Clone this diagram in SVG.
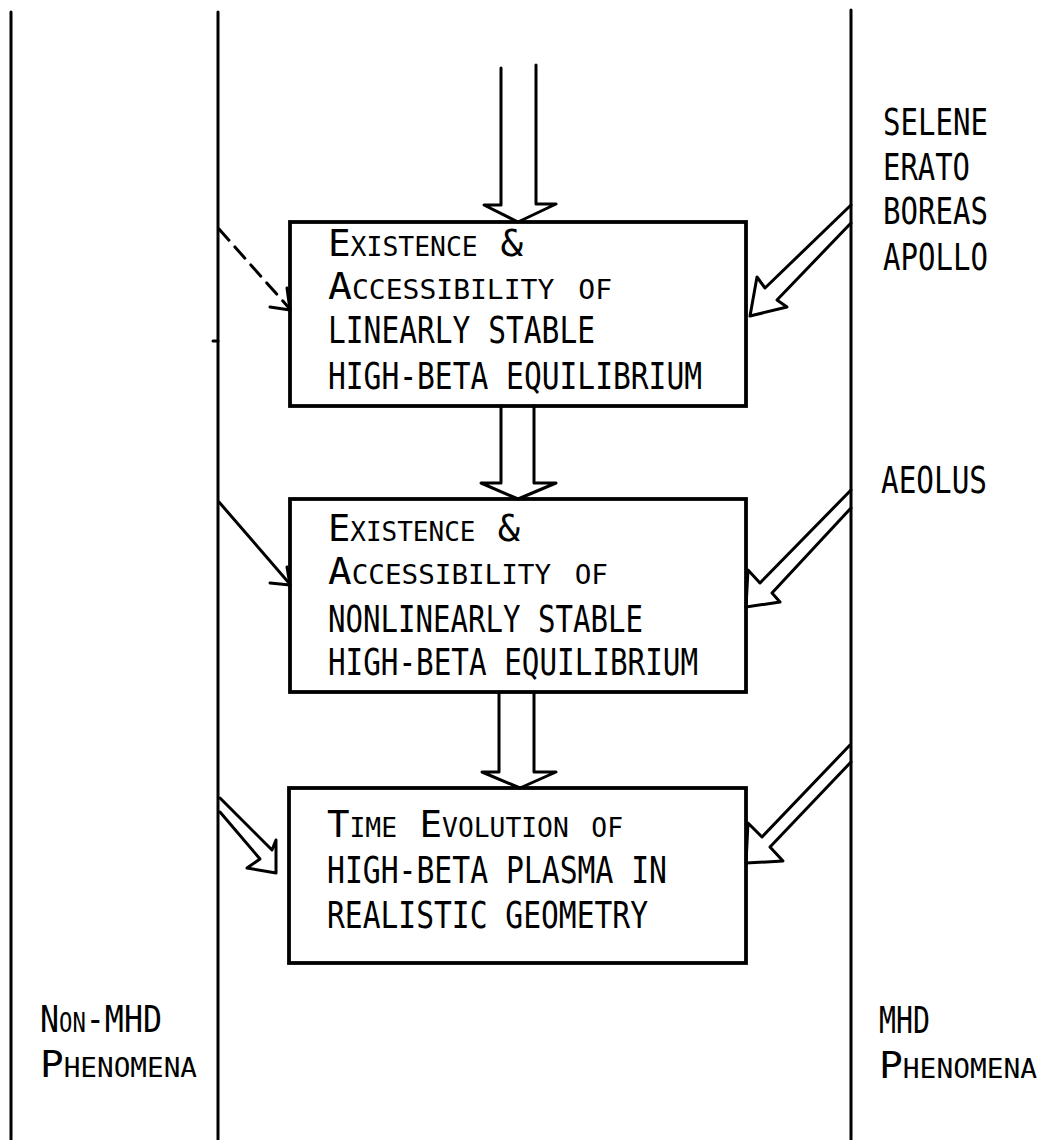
<svg xmlns="http://www.w3.org/2000/svg" width="1055" height="1140" viewBox="0 0 1055 1140">
<style>
.ln{stroke:#000;stroke-width:3;fill:none;stroke-linecap:round;stroke-linejoin:round}
.box{stroke:#000;stroke-width:3.8;fill:none}
.t{font-family:"DejaVu Sans Mono","Liberation Mono",monospace;font-size:37px;fill:#000}
.sc{font-variant:small-caps}
</style>
<rect width="1055" height="1140" fill="#fff"/>
<g id="dividers">
<line class="ln" x1="11" y1="12" x2="11" y2="1140"/>
<line class="ln" x1="218" y1="12" x2="218" y2="1140"/>
<line class="ln" x1="851" y1="10" x2="851" y2="1140"/>
<line class="ln" x1="213" y1="341" x2="218" y2="341" stroke-width="2"/>
</g>
<g id="connectors">
<polyline class="ln" points="501,68 501,205 484,205 518,222 556,204 536,204 536,65"/>
<polyline class="ln" points="501,406 501,483 481,483 518,499 556,483 534,483 534,406"/>
<polyline class="ln" points="499,692 499,772 482,772 520,788 556,772 534,772 534,692"/>
<polyline class="ln" points="851,205 765,288 757,277 750,316 787,307 777,300 851,223"/>
<polyline class="ln" points="851,490 760,583 748,570 746,607 780,602 772,593 851,508"/>
<polyline class="ln" points="850,745 762,837 748,823 746,863 783,861 770,847 851,762"/>
<polyline class="ln" points="220,798 272,850 276,840 276,873 247,868 260,859 220,812"/>
<line class="ln" x1="219" y1="229" x2="289" y2="308" stroke-dasharray="15,9" stroke-linecap="butt" stroke-width="3.2"/>
<polyline class="ln" points="270,307 290,310 287,288"/>
<line class="ln" x1="219" y1="502" x2="289" y2="583"/>
<polyline class="ln" points="270,583 290,585 287,567"/>
</g>
<g id="box1">
<rect class="box" x="290" y="222" width="456" height="184"/>
<text class="t sc" x="328" y="256" textLength="195" lengthAdjust="spacingAndGlyphs">Existence &amp;</text>
<text class="t sc" x="328" y="299" textLength="284" lengthAdjust="spacingAndGlyphs">Accessibility of</text>
<text class="t" x="328" y="343" textLength="267" lengthAdjust="spacingAndGlyphs">LINEARLY STABLE</text>
<text class="t" x="328" y="389" textLength="374" lengthAdjust="spacingAndGlyphs">HIGH-BETA EQUILIBRIUM</text>
</g>
<g id="box2">
<rect class="box" x="290" y="499" width="456" height="193"/>
<text class="t sc" x="328" y="541" textLength="192" lengthAdjust="spacingAndGlyphs">Existence &amp;</text>
<text class="t sc" x="328" y="584" textLength="280" lengthAdjust="spacingAndGlyphs">Accessibility of</text>
<text class="t" x="328" y="632" textLength="315" lengthAdjust="spacingAndGlyphs">NONLINEARLY STABLE</text>
<text class="t" x="328" y="675" textLength="370" lengthAdjust="spacingAndGlyphs">HIGH-BETA EQUILIBRIUM</text>
</g>
<g id="box3">
<rect class="box" x="289" y="788" width="457" height="175"/>
<text class="t sc" x="327" y="837" textLength="296" lengthAdjust="spacingAndGlyphs">Time Evolution of</text>
<text class="t" x="327" y="883" textLength="340" lengthAdjust="spacingAndGlyphs">HIGH-BETA PLASMA IN</text>
<text class="t" x="327" y="928" textLength="321" lengthAdjust="spacingAndGlyphs">REALISTIC GEOMETRY</text>
</g>
<g id="codes">
<text class="t" x="883" y="135" textLength="105" lengthAdjust="spacingAndGlyphs">SELENE</text>
<text class="t" x="883" y="180" textLength="87" lengthAdjust="spacingAndGlyphs">ERATO</text>
<text class="t" x="883" y="224" textLength="105" lengthAdjust="spacingAndGlyphs">BOREAS</text>
<text class="t" x="883" y="270" textLength="105" lengthAdjust="spacingAndGlyphs">APOLLO</text>
<text class="t" x="881" y="493" textLength="106" lengthAdjust="spacingAndGlyphs">AEOLUS</text>
</g>
<g id="non-mhd">
<text class="t sc" x="40" y="1032" textLength="122" lengthAdjust="spacingAndGlyphs">Non-MHD</text>
<text class="t sc" x="40" y="1077" textLength="157" lengthAdjust="spacingAndGlyphs">Phenomena</text>
</g>
<g id="mhd">
<text class="t" x="879" y="1033" textLength="51" lengthAdjust="spacingAndGlyphs">MHD</text>
<text class="t sc" x="879" y="1078" textLength="158" lengthAdjust="spacingAndGlyphs">Phenomena</text>
</g>
</svg>
